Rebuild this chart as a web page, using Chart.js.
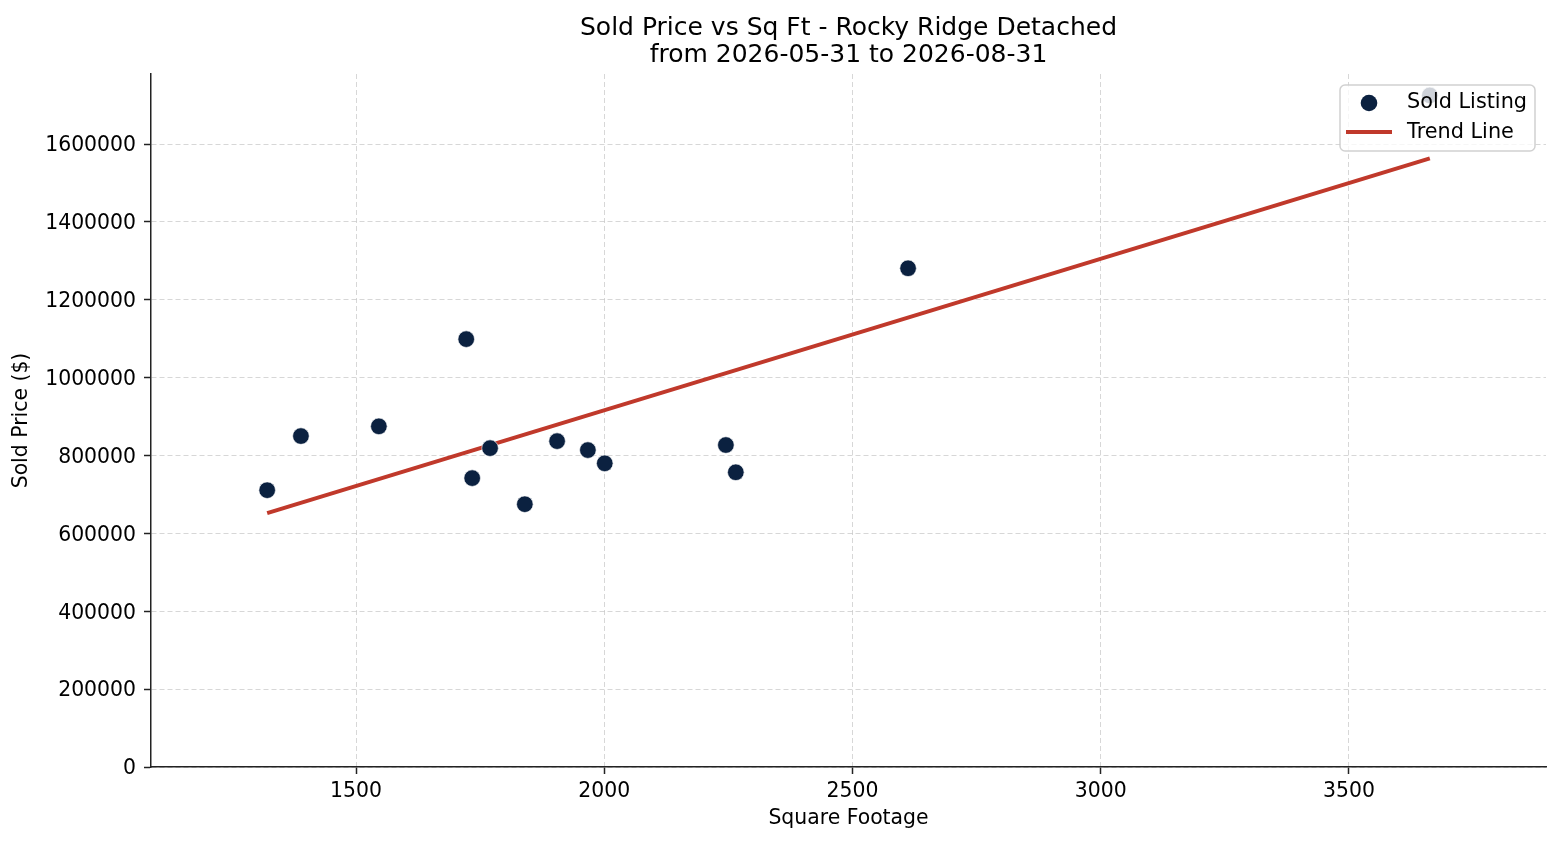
<!DOCTYPE html>
<html><head><meta charset="utf-8">
<script src="https://cdn.jsdelivr.net/npm/chart.js@4.4.1/dist/chart.umd.min.js"></script>
<style>html,body{margin:0;padding:0;background:#fff;} #wrap{width:1560px;height:845px;position:relative;}</style>
</head><body><div id="wrap"><canvas id="c"></canvas></div>
<script>
const titleLines = ['Sold Price vs Sq Ft - Rocky Ridge Detached', 'from 2026-05-31 to 2026-08-31'];
const seriesNames = ['Sold Listing', 'Trend Line'];
const sqft = [1321, 1389, 1546, 1722, 1734, 1770, 1840, 1905, 1967, 2001, 2245, 2265, 2612, 3663];
const soldPrice = [711000, 850000, 875000, 1099000, 742000, 819000, 675000, 837000, 814000, 780000, 827000, 757000, 1281000, 1725000];
const trendSqft = [1321, 3663];
const trendPrice = [652000, 1563500];
const xTicks = [1500, 2000, 2500, 3000, 3500];
const yTicks = [0, 200000, 400000, 600000, 800000, 1000000, 1200000, 1400000, 1600000];
const xLimits = [1087, 3897];
const yLimits = [0, 1780000];

const pointColor = '#0b2140';
const lineColor = '#c0392b';
const gridColor = 'rgba(176,176,176,0.5)';
const axisColor = '#222222';

Chart.defaults.font.family = '"DejaVu Sans", sans-serif';
Chart.defaults.color = '#000';

const titlePlugin = {
  id: 'mplTitle',
  afterDraw(chart) {
    const {ctx, chartArea: a} = chart;
    const cx = (a.left + a.right) / 2;
    ctx.save();
    ctx.fillStyle = '#000';
    ctx.font = '25px "DejaVu Sans"';
    ctx.textAlign = 'center';
    ctx.textBaseline = 'alphabetic';
    ctx.fillText(titleLines[0], cx, 35);
    ctx.fillText(titleLines[1], cx, 62);
    ctx.restore();
  }
};

const legendPlugin = {
  id: 'mplLegend',
  afterDraw(chart) {
    const {ctx, chartArea: a} = chart;
    const w = 195, h = 66;
    const x = a.right - 11 - w, y = a.top + 11;
    ctx.save();
    ctx.beginPath();
    ctx.roundRect(x, y, w, h, 5);
    ctx.fillStyle = 'rgba(255,255,255,0.8)';
    ctx.fill();
    ctx.strokeStyle = 'rgba(204,204,204,0.9)';
    ctx.lineWidth = 1.5;
    ctx.stroke();
    ctx.beginPath();
    ctx.arc(x + 29, y + 18, 8.3, 0, Math.PI * 2);
    ctx.fillStyle = pointColor;
    ctx.fill();
    ctx.beginPath();
    ctx.moveTo(x + 6, y + 47);
    ctx.lineTo(x + 52, y + 47);
    ctx.strokeStyle = lineColor;
    ctx.lineWidth = 4;
    ctx.stroke();
    ctx.fillStyle = '#000';
    ctx.font = '20.8px "DejaVu Sans"';
    ctx.textAlign = 'left';
    ctx.textBaseline = 'alphabetic';
    ctx.fillText(chart.data.datasets[0].label, x + 67, y + 23);
    ctx.fillText(chart.data.datasets[1].label, x + 67, y + 53);
    ctx.restore();
  }
};

new Chart(document.getElementById('c'), {
  type: 'scatter',
  data: {
    datasets: [
      {
        type: 'scatter',
        label: seriesNames[0],
        data: sqft.map((v, i) => ({x: v, y: soldPrice[i]})),
        backgroundColor: pointColor,
        borderColor: 'rgba(255,255,255,0.8)',
        borderWidth: 0.8,
        pointRadius: 8.3,
        pointHoverRadius: 8.3
      },
      {
        type: 'line',
        label: seriesNames[1],
        data: trendSqft.map((v, i) => ({x: v, y: trendPrice[i]})),
        borderColor: lineColor,
        borderWidth: 4,
        pointRadius: 0,
        showLine: true,
        fill: false
      }
    ]
  },
  options: {
    responsive: true,
    maintainAspectRatio: false,
    animation: false,
    devicePixelRatio: 1,
    layout: {padding: {left: 0, right: 14, top: 74, bottom: 0}},
    plugins: {
      legend: {display: false},
      tooltip: {enabled: false},
      title: {display: false}
    },
    scales: {
      x: {
        type: 'linear',
        position: 'bottom',
        min: xLimits[0],
        max: xLimits[1],
        z: 1,
        afterBuildTicks: s => { s.ticks = xTicks.map(v => ({value: v})); },
        afterFit: s => { s.height = 78; },
        grid: {color: gridColor, lineWidth: 1, tickColor: axisColor, tickWidth: 1.5, tickLength: 7},
        border: {display: true, color: axisColor, width: 1.5, dash: [5, 3]},
        ticks: {font: {size: 20.4}, color: '#000', padding: 5, autoSkip: false, maxRotation: 0, callback: v => String(v)},
        title: {display: true, text: 'Square Footage', color: '#000', font: {size: 20.4}, padding: {top: 0, bottom: 14}}
      },
      y: {
        type: 'linear',
        position: 'left',
        min: yLimits[0],
        max: yLimits[1],
        z: 1,
        afterBuildTicks: s => { s.ticks = yTicks.map(v => ({value: v})); },
        afterFit: s => { s.width = 151; },
        grid: {color: gridColor, lineWidth: 1, tickColor: axisColor, tickWidth: 1.5, tickLength: 7},
        border: {display: true, color: axisColor, width: 1.5, dash: [5, 3]},
        ticks: {font: {size: 20.4}, color: '#000', padding: 8, labelOffset: 2, autoSkip: false, callback: v => String(v)},
        title: {display: true, text: 'Sold Price ($)', color: '#000', font: {size: 20.4}, padding: {top: 9, bottom: 0}}
      }
    }
  },
  plugins: [legendPlugin, titlePlugin]
});
</script>
</body></html>
